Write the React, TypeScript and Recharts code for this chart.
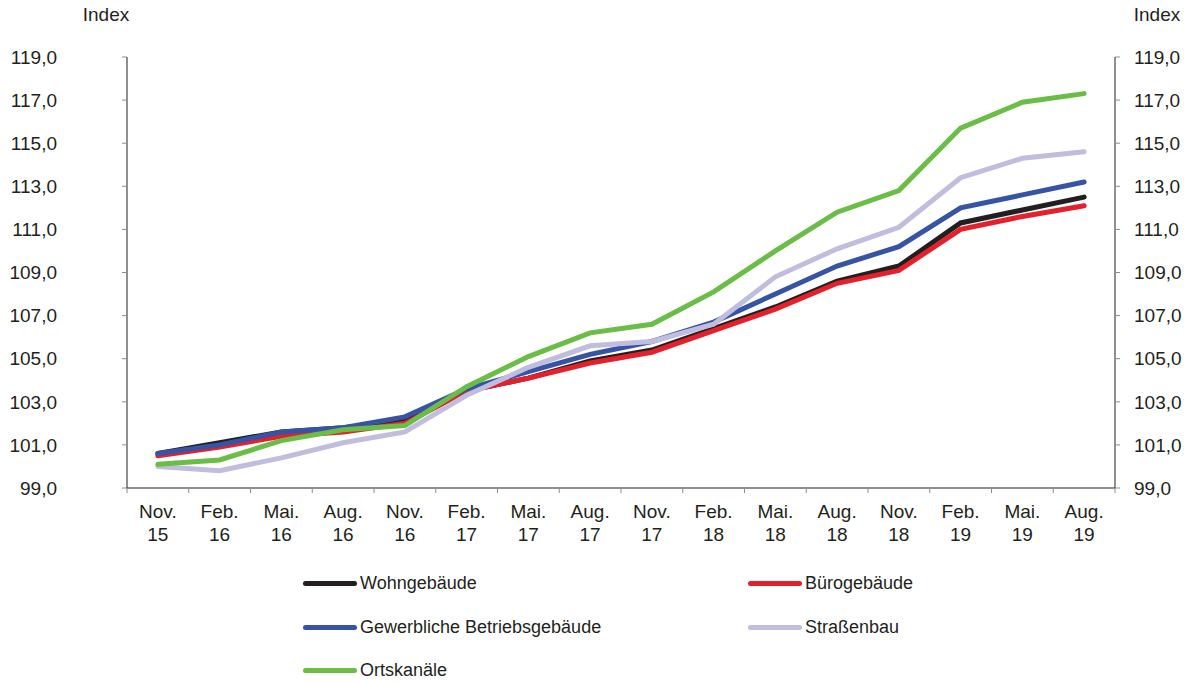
import { LineChart, Line, XAxis, YAxis, Label } from 'recharts';

const MONTHS = ['Nov.', 'Feb.', 'Mai.', 'Aug.', 'Nov.', 'Feb.', 'Mai.', 'Aug.', 'Nov.', 'Feb.', 'Mai.', 'Aug.', 'Nov.', 'Feb.', 'Mai.', 'Aug.'];
const YEARS = ['15', '16', '16', '16', '16', '17', '17', '17', '17', '18', '18', '18', '18', '19', '19', '19'];

const wohngebaeude = [100.6, 101.1, 101.6, 101.8, 102.1, 103.5, 104.1, 104.9, 105.4, 106.4, 107.4, 108.6, 109.3, 111.3, 111.9, 112.5];
const buerogebaeude = [100.5, 100.9, 101.4, 101.6, 102.0, 103.5, 104.1, 104.8, 105.3, 106.3, 107.3, 108.5, 109.1, 111.0, 111.6, 112.1];
const gewerbliche = [100.6, 101.0, 101.6, 101.8, 102.3, 103.6, 104.4, 105.2, 105.8, 106.7, 108.0, 109.3, 110.2, 112.0, 112.6, 113.2];
const strassenbau = [100.0, 99.8, 100.4, 101.1, 101.6, 103.3, 104.6, 105.6, 105.8, 106.6, 108.8, 110.1, 111.1, 113.4, 114.3, 114.6];
const ortskanaele = [100.1, 100.3, 101.2, 101.7, 101.9, 103.7, 105.1, 106.2, 106.6, 108.1, 110.0, 111.8, 112.8, 115.7, 116.9, 117.3];

const Y_TICKS = [99, 101, 103, 105, 107, 109, 111, 113, 115, 117, 119];

// both y axes share the same fixed domain; the last series is attached to the right one so it renders
const SERIES = [
  { key: 'wohn', name: 'Wohngebäude', values: wohngebaeude, color: '#231f20', yAxis: 'l' },
  { key: 'buero', name: 'Bürogebäude', values: buerogebaeude, color: '#e3202b', yAxis: 'l' },
  { key: 'gewerb', name: 'Gewerbliche Betriebsgebäude', values: gewerbliche, color: '#3653a6', yAxis: 'l' },
  { key: 'strasse', name: 'Straßenbau', values: strassenbau, color: '#c0bddf', yAxis: 'l' },
  { key: 'orts', name: 'Ortskanäle', values: ortskanaele, color: '#6abd45', yAxis: 'r' },
];

const FONT = '"Liberation Sans", Arial, sans-serif';
const TEXT = '#231f20';

const data = MONTHS.map((m, i) => ({
  i,
  ...Object.fromEntries(SERIES.map(s => [s.key, s.values[i]])),
}));

const boundaryTicks = MONTHS.map((_, i) => i - 0.5).concat(MONTHS.length - 0.5);
const centerTicks = MONTHS.map((_, i) => i);

const fmt = (v: number) => v.toFixed(1).replace('.', ',');

function MonthTick(props: any) {
  const { x, y, payload } = props;
  const i = payload.value;
  return (
    <text x={x} textAnchor="middle" fill={TEXT} fontSize={19} fontFamily={FONT}>
      <tspan x={x} y={y + 29}>{MONTHS[i]}</tspan>
      <tspan x={x} y={y + 52}>{YEARS[i]}</tspan>
    </text>
  );
}

function IndexLabel(props: any, dx: number) {
  const { viewBox } = props;
  return (
    <text x={viewBox.x + dx} y={21} textAnchor="middle" fill={TEXT} fontSize={19} fontFamily={FONT}>
      Index
    </text>
  );
}

const LEGEND_POS = [
  { left: 303, top: 583 },
  { left: 748, top: 583 },
  { left: 303, top: 627 },
  { left: 748, top: 627 },
  { left: 303, top: 670 },
];

export default function App() {
  return (
    <div style={{ position: 'absolute', left: 0, top: 0, width: 1188, height: 682, background: '#fff' }}>
      <LineChart width={1188} height={682} data={data} margin={{ top: 57, right: 0, bottom: 0, left: 0 }}>
        <XAxis
          xAxisId="axis"
          dataKey="i"
          type="number"
          domain={[-0.5, MONTHS.length - 0.5]}
          ticks={boundaryTicks}
          interval={0}
          tickFormatter={() => ''}
          height={1}
          tickSize={5}
          stroke={TEXT}
          axisLine={{ stroke: TEXT, strokeWidth: 1 }}
          tickLine={{ stroke: '#8c8c8c' }}
        />
        <XAxis
          xAxisId="labels"
          dataKey="i"
          type="number"
          domain={[-0.5, MONTHS.length - 0.5]}
          ticks={centerTicks}
          interval={0}
          height={193}
          axisLine={false}
          tickLine={false}
          tickSize={0}
          tickMargin={0}
          tick={<MonthTick />}
        />
        <YAxis
          yAxisId="l"
          width={127}
          domain={[99, 119]}
          ticks={Y_TICKS}
          interval={0}
          tickFormatter={fmt}
          tickSize={5}
          tickMargin={65}
          stroke={TEXT}
          axisLine={{ stroke: TEXT }}
          tickLine={{ stroke: '#8c8c8c' }}
          tick={{ fill: TEXT, fontSize: 19, fontFamily: FONT }}
        >
          <Label content={(p: any) => IndexLabel(p, 106)} />
        </YAxis>
        <YAxis
          yAxisId="r"
          orientation="right"
          width={73}
          domain={[99, 119]}
          ticks={Y_TICKS}
          interval={0}
          tickFormatter={fmt}
          tickSize={5}
          tickMargin={14}
          stroke={TEXT}
          axisLine={{ stroke: TEXT }}
          tickLine={{ stroke: '#8c8c8c' }}
          tick={{ fill: TEXT, fontSize: 19, fontFamily: FONT, textAnchor: 'start' }}
        >
          <Label content={(p: any) => IndexLabel(p, 42)} />
        </YAxis>
        {SERIES.map(s => (
          <Line
            key={s.key}
            xAxisId="axis"
            yAxisId={s.yAxis}
            dataKey={s.key}
            name={s.name}
            stroke={s.color}
            strokeWidth={5}
            strokeLinecap="round"
            dot={false}
            activeDot={false}
            isAnimationActive={false}
          />
        ))}
        {/* invisible copy so the label axis gets data too */}
        <Line
          xAxisId="labels"
          yAxisId="l"
          dataKey="orts"
          stroke="none"
          dot={false}
          activeDot={false}
          legendType="none"
          isAnimationActive={false}
        />
      </LineChart>
      {SERIES.map((s, idx) => (
        <div
          key={s.key}
          style={{
            position: 'absolute',
            left: LEGEND_POS[idx].left,
            top: LEGEND_POS[idx].top - 11,
            height: 22,
            display: 'flex',
            alignItems: 'center',
            fontFamily: FONT,
            fontSize: 18,
            color: TEXT,
            whiteSpace: 'nowrap',
          }}
        >
          <span style={{ display: 'inline-block', width: 54, height: 5, borderRadius: 3, background: s.color, marginRight: 3 }} />
          {s.name}
        </div>
      ))}
    </div>
  );
}
